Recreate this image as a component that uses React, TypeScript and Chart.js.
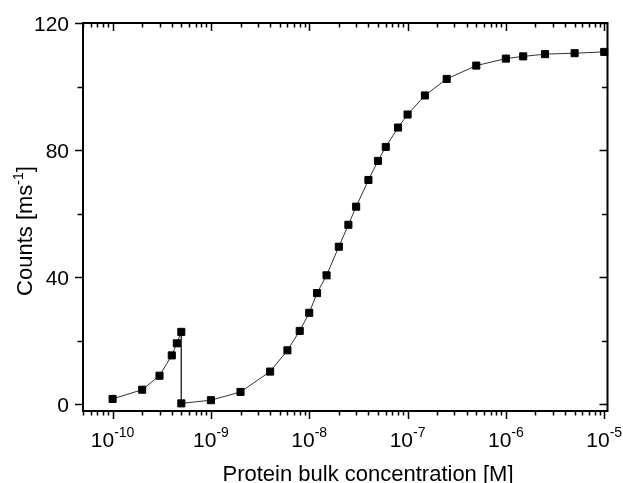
import React, { useEffect, useRef } from "react";
import { Chart, registerables } from "chart.js";

Chart.register(...registerables);

// Data
const concentration: number[] = [
  1e-10, 2e-10, 3e-10, 4e-10, 4.5e-10, 5e-10, 5e-10, 1e-9, 2e-9, 4e-9, 6e-9, 8e-9,
  1e-8, 1.2e-8, 1.5e-8, 2e-8, 2.5e-8, 3e-8, 4e-8, 5e-8, 6e-8, 8e-8, 1e-7, 1.5e-7,
  2.5e-7, 5e-7, 1e-6, 1.5e-6, 2.5e-6, 5e-6, 1e-5,
];
const counts: number[] = [
  1.7, 4.6, 9.0, 15.4, 19.2, 22.8, 0.3, 1.3, 3.9, 10.3, 17.0, 23.1,
  28.8, 35.0, 40.6, 49.6, 56.5, 62.2, 70.6, 76.6, 81.0, 87.1, 91.2, 97.2,
  102.4, 106.6, 108.8, 109.5, 110.2, 110.5, 110.9,
];

const xTickExponents: number[] = [-10, -9, -8, -7, -6, -5];
const yMajorTicks: number[] = [0, 40, 80, 120];
const yMinorTicks: number[] = [20, 60, 100];

const xTitle = "Protein bulk concentration [M]";
const yTitleMain = "Counts [ms";
const yTitleSup = "-1";
const yTitleEnd = "]";

const FONT = '"Liberation Sans", Arial, Helvetica, sans-serif';

const framePlugin = {
  id: "originFrame",
  beforeDatasetsDraw(chart: any) {
    const { ctx, chartArea, scales } = chart;
    const xs = scales.x;
    const ys = scales.y;
    const { left, right, top, bottom } = chartArea;
    ctx.save();
    ctx.strokeStyle = "#000";
    ctx.fillStyle = "#000";

    // frame
    ctx.lineWidth = 2;
    ctx.strokeRect(left, top, right - left, bottom - top);

    ctx.lineWidth = 1.5;
    const majorLen = 8;
    const minorLen = 4.5;

    // x ticks (bottom outward, top inward)
    const xmin = xs.min;
    const xmax = xs.max;
    for (let e = -11; e <= -5; e++) {
      for (let k = 1; k <= 9; k++) {
        const v = k * Math.pow(10, e);
        if (v < xmin * 0.9999 || v > xmax * 1.0001) continue;
        const px = Math.round(xs.getPixelForValue(v)) + 0.5;
        const len = k === 1 ? majorLen : minorLen;
        ctx.beginPath();
        ctx.moveTo(px, bottom);
        ctx.lineTo(px, bottom + len);
        ctx.moveTo(px, top);
        ctx.lineTo(px, top + len);
        ctx.stroke();
      }
    }

    // y ticks (left outward, right inward)
    const drawY = (v: number, len: number) => {
      const py = Math.round(ys.getPixelForValue(v)) + 0.5;
      ctx.beginPath();
      ctx.moveTo(left, py);
      ctx.lineTo(left - len, py);
      ctx.moveTo(right, py);
      ctx.lineTo(right - len, py);
      ctx.stroke();
    };
    yMajorTicks.forEach((v) => drawY(v, majorLen));
    yMinorTicks.forEach((v) => drawY(v, minorLen + 1));

    // y tick labels
    ctx.font = `21px ${FONT}`;
    ctx.textAlign = "right";
    ctx.textBaseline = "alphabetic";
    yMajorTicks.forEach((v) => {
      const py = ys.getPixelForValue(v);
      ctx.fillText(String(v), left - 14, py + 7.5);
    });

    // x tick labels: 10^e
    xTickExponents.forEach((e) => {
      const px = xs.getPixelForValue(Math.pow(10, e));
      ctx.font = `21px ${FONT}`;
      const wMain = ctx.measureText("10").width;
      ctx.font = `14px ${FONT}`;
      const sup = String(e);
      const wSup = ctx.measureText(sup).width;
      const total = wMain + wSup;
      const x0 = px - total / 2;
      ctx.textAlign = "left";
      ctx.font = `21px ${FONT}`;
      ctx.fillText("10", x0, bottom + 35.5);
      ctx.font = `14px ${FONT}`;
      ctx.fillText(sup, x0 + wMain, bottom + 25.5);
    });

    // x title
    ctx.font = `22px ${FONT}`;
    ctx.textAlign = "center";
    ctx.fillText(xTitle, 368, 481);

    // y title (rotated)
    ctx.save();
    ctx.translate(32, 231);
    ctx.rotate(-Math.PI / 2);
    ctx.font = `22px ${FONT}`;
    const w1 = ctx.measureText(yTitleMain).width;
    const w3 = ctx.measureText(yTitleEnd).width;
    ctx.font = `14px ${FONT}`;
    const w2 = ctx.measureText(yTitleSup).width;
    const tw = w1 + w2 + w3;
    let x = -tw / 2;
    ctx.textAlign = "left";
    ctx.font = `22px ${FONT}`;
    ctx.fillText(yTitleMain, x, 0);
    x += w1;
    ctx.font = `14px ${FONT}`;
    ctx.fillText(yTitleSup, x, -9);
    x += w2;
    ctx.font = `22px ${FONT}`;
    ctx.fillText(yTitleEnd, x, 0);
    ctx.restore();

    ctx.restore();
  },
};

export default function App() {
  const canvasRef = useRef<HTMLCanvasElement | null>(null);

  useEffect(() => {
    if (!canvasRef.current) return;
    const data = concentration.map((c, i) => ({ x: c, y: counts[i] }));
    const chart = new Chart(canvasRef.current, {
      type: "scatter",
      data: {
        datasets: [
          {
            data,
            showLine: true,
            borderColor: "#333",
            borderWidth: 1,
            pointStyle: "rect",
            pointRadius: 5,
            pointBorderWidth: 1,
            pointBackgroundColor: "#000",
            pointBorderColor: "#000",
            clip: false,
          } as any,
        ],
      },
      options: {
        animation: false,
        responsive: false,
        events: [],
        layout: { padding: { left: 83, right: 15.5, top: 23, bottom: 72 } },
        plugins: {
          legend: { display: false },
          tooltip: { enabled: false },
        },
        scales: {
          x: { type: "logarithmic", min: 5e-11, max: 1.08e-5, display: false },
          y: { type: "linear", min: -2.1, max: 120, display: false },
        },
      },
      plugins: [framePlugin],
    });
    return () => chart.destroy();
  }, []);

  return (
    <div style={{ position: "fixed", left: 0, top: 0, width: 623, height: 483, background: "#fff" }}>
      <canvas ref={canvasRef} width={623} height={483} style={{ width: 623, height: 483, display: "block" }} />
    </div>
  );
}
